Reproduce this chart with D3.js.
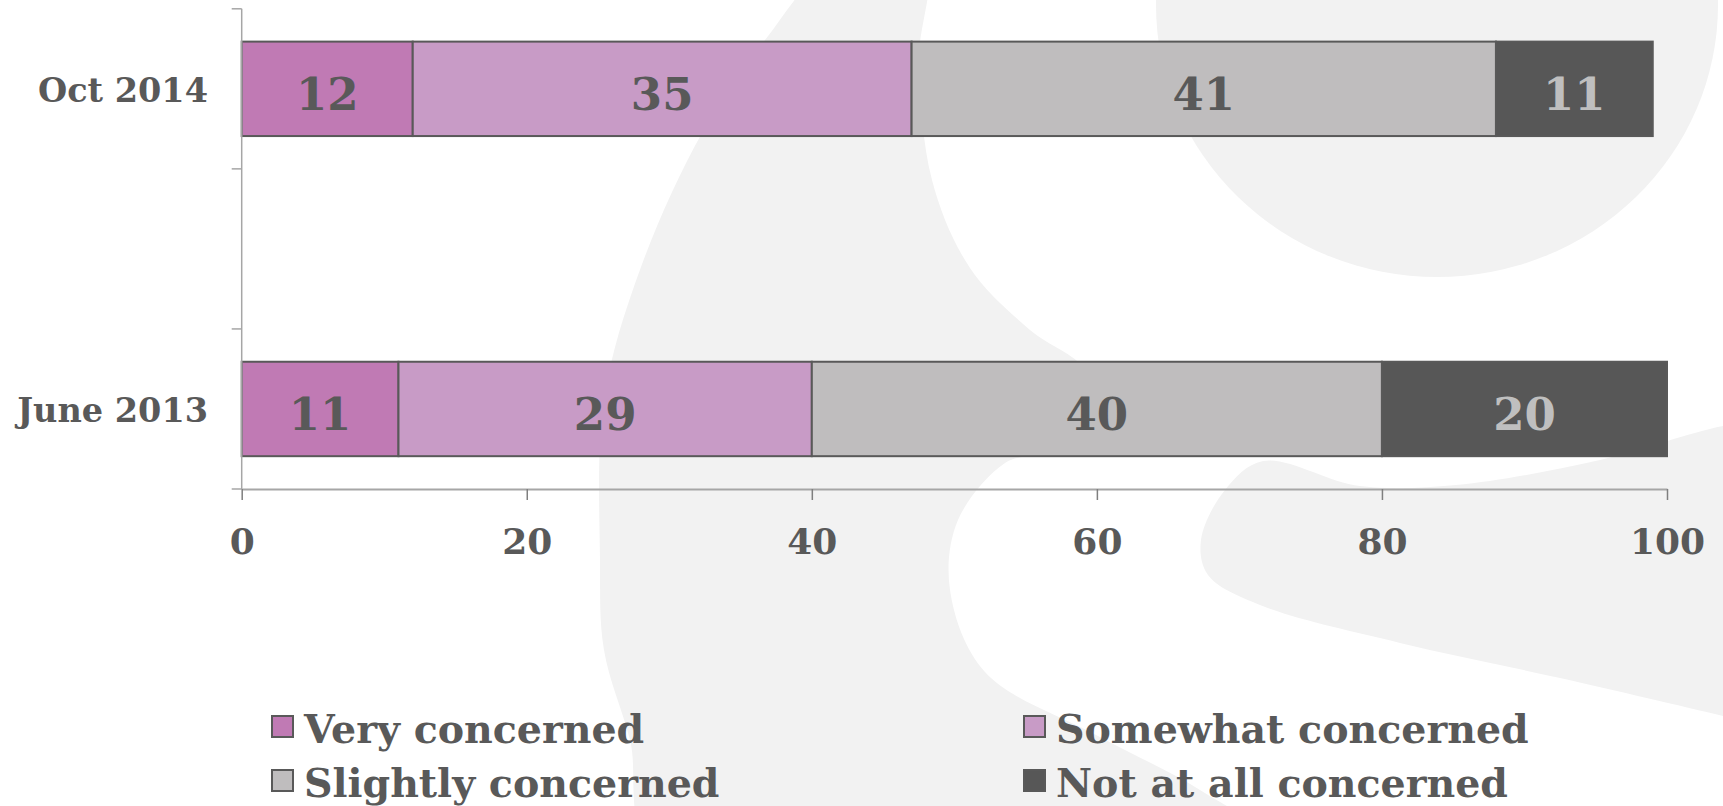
<!DOCTYPE html>
<html>
<head>
<meta charset="utf-8">
<script src="https://cdn.jsdelivr.net/npm/d3@7"></script>
<style>
  html, body { margin: 0; padding: 0; background: #ffffff; }
  svg { display: block; }
  text { font-family: "DejaVu Serif", "Liberation Serif", serif; font-weight: bold; }
</style>
</head>
<body>
<svg id="chart" width="1723" height="806"></svg>
<script>
// Survey waves (top to bottom) and share of respondents per answer, in percent
const categories = ["Oct 2014", "June 2013"];
const seriesNames = ["Very concerned", "Somewhat concerned", "Slightly concerned", "Not at all concerned"];
const veryConcerned      = [12, 11];
const somewhatConcerned  = [35, 29];
const slightlyConcerned  = [41, 40];
const notAtAllConcerned  = [11, 20];
const xTickValues = [0, 20, 40, 60, 80, 100];

const colors = ["#C07AB4", "#C89BC6", "#BFBDBE", "#575757"];
const labelColors = ["#595959", "#595959", "#595959", "#BFBFBF"];
const ink = "#595959";

const rows = categories.map((c, i) => ({
  category: c,
  [seriesNames[0]]: veryConcerned[i],
  [seriesNames[1]]: somewhatConcerned[i],
  [seriesNames[2]]: slightlyConcerned[i],
  [seriesNames[3]]: notAtAllConcerned[i]
}));

const svg = d3.select("#chart");

// ---- faint watermark shapes behind the plot ----
const bg = svg.append("g").attr("fill", "#F2F2F2");
const blob = d3.line().curve(d3.curveCatmullRomClosed.alpha(0.5));
bg.append("ellipse").attr("cx", 1437).attr("cy", 5).attr("rx", 281).attr("ry", 272);
bg.append("path").attr("d", blob([
  [838, -40], [924, -40], [919, 60], [932, 180], [970, 268], [1030, 330], [1085, 370],
  [1092, 418], [1042, 452], [1005, 463], [958, 520], [950, 590], [985, 672], [1098, 736],
  [1200, 790], [1280, 850], [655, 850], [630, 740], [604, 650], [600, 560], [604, 400],
  [641, 267], [702, 133], [765, 40]
]));
bg.append("path").attr("d", blob([
  [1263, 461], [1360, 486], [1456, 485], [1600, 460], [1723, 426], [1780, 420],
  [1780, 730], [1723, 716], [1560, 678], [1400, 643], [1260, 605], [1208, 575],
  [1201, 540], [1225, 490]
]));

// ---- scales ----
const x = d3.scaleLinear().domain([0, 100]).range([241.7, 1667]);
const bandDomain = [categories[0], "", categories[1]];
const y = d3.scaleBand().domain(bandDomain).range([8.8, 489]).padding(0);
const barH = y.step() * 0.59;
const barY = c => y(c) + (y.step() - barH) / 2;

// ---- stacked bars ----
const stacked = d3.stack().keys(seriesNames)(rows);
const layers = svg.append("g").selectAll("g").data(stacked).join("g")
  .attr("fill", (d, i) => colors[i]);

layers.selectAll("rect").data(d => d).join("rect")
  .attr("x", d => x(d[0]))
  .attr("y", d => barY(d.data.category))
  .attr("width", d => x(d[1]) - x(d[0]))
  .attr("height", barH)
  .attr("stroke", "#595959")
  .attr("stroke-width", 2);

// value labels centred in each segment
layers.each(function(layer, i) {
  d3.select(this).selectAll("text").data(layer).join("text")
    .attr("x", d => (x(d[0]) + x(d[1])) / 2)
    .attr("y", d => barY(d.data.category) + barH / 2 + 21)
    .attr("text-anchor", "middle")
    .attr("fill", labelColors[i])
    .attr("font-size", 45)
    .text(d => d[1] - d[0]);
});

// ---- y axis: line, ticks at band edges, category labels ----
const yAxis = svg.append("g");
const yEdges = bandDomain.map(c => y(c)).concat([y.range()[1]]);
yAxis.append("line")
  .attr("x1", x(0)).attr("x2", x(0))
  .attr("y1", y.range()[0]).attr("y2", y.range()[1])
  .attr("stroke", "#A6A6A6").attr("stroke-width", 1.5);
yAxis.selectAll("line.tick").data(yEdges).join("line")
  .attr("class", "tick")
  .attr("x1", x(0) - 10).attr("x2", x(0))
  .attr("y1", d => d).attr("y2", d => d)
  .attr("stroke", "#A6A6A6").attr("stroke-width", 1.5);
yAxis.selectAll("text").data(categories).join("text")
  .attr("x", 208)
  .attr("y", c => y(c) + y.step() / 2 + 13.5)
  .attr("text-anchor", "end")
  .attr("fill", ink)
  .attr("font-size", 33.5)
  .text(c => c);

// ---- x axis ----
const xAxis = svg.append("g").attr("transform", `translate(0,${y.range()[1]})`)
  .call(d3.axisBottom(x).tickValues(xTickValues).tickSize(11).tickPadding(0).tickSizeOuter(0));
xAxis.select(".domain").attr("stroke", "#A6A6A6").attr("stroke-width", 2.2);
xAxis.selectAll(".tick line").attr("stroke", "#7F7F7F").attr("stroke-width", 1.5);
xAxis.selectAll(".tick text")
  .attr("y", 65).attr("dy", null)
  .attr("fill", ink)
  .attr("font-size", 36)
  .attr("font-family", "\"DejaVu Serif\", serif")
  .attr("font-weight", "bold");

// ---- legend ----
const legendPos = [[272, 716], [1024, 716], [272, 770], [1024, 770]];
const legend = svg.append("g").selectAll("g").data(seriesNames).join("g")
  .attr("transform", (d, i) => `translate(${legendPos[i][0]},${legendPos[i][1]})`);
legend.append("rect")
  .attr("width", 21).attr("height", 21)
  .attr("fill", (d, i) => colors[i])
  .attr("stroke", "#595959").attr("stroke-width", 2);
legend.append("text")
  .attr("x", 32).attr("y", 27)
  .attr("fill", ink)
  .attr("font-size", 39.5)
  .text(d => d);
</script>
</body>
</html>
